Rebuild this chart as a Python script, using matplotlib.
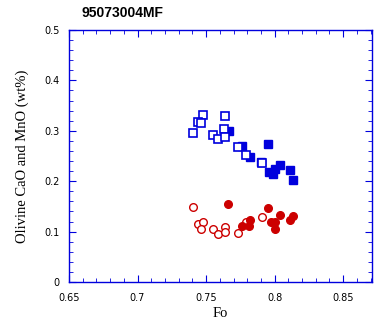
import matplotlib
matplotlib.use("Agg")
import matplotlib.pyplot as plt
from matplotlib.ticker import MultipleLocator

# CaO (blue squares), MnO (red circles); open = one group, filled = another
cao_open_x = [0.748, 0.744, 0.7466, 0.764, 0.7407, 0.7553, 0.759, 0.7634, 0.764, 0.7736, 0.7794, 0.791]
cao_open_y = [0.331, 0.317, 0.315, 0.329, 0.295, 0.291, 0.283, 0.303, 0.287, 0.267, 0.251, 0.236]
cao_fill_x = [0.7666, 0.7765, 0.7823, 0.7955, 0.7904, 0.8042, 0.8115, 0.7962, 0.8006, 0.7985, 0.8137]
cao_fill_y = [0.299, 0.269, 0.249, 0.273, 0.239, 0.232, 0.222, 0.218, 0.224, 0.214, 0.202]
mno_open_x = [0.7407, 0.7444, 0.748, 0.7466, 0.7553, 0.759, 0.7636, 0.764, 0.7736, 0.7906, 0.7794]
mno_open_y = [0.148, 0.116, 0.120, 0.105, 0.105, 0.095, 0.109, 0.099, 0.097, 0.128, 0.119]
mno_fill_x = [0.7663, 0.7763, 0.7823, 0.7816, 0.7955, 0.797, 0.8004, 0.8042, 0.8006, 0.8115, 0.8137]
mno_fill_y = [0.154, 0.112, 0.124, 0.112, 0.146, 0.120, 0.120, 0.132, 0.106, 0.124, 0.130]

title = "95073004MF"
xlabel = "Fo"
ylabel = "Olivine CaO and MnO (wt%)"

blue = "#0000DD"
red = "#CC0000"

fig = plt.figure(figsize=(3.89, 3.24), dpi=100)
ax = fig.add_axes([69/389, 42/324, 303/389, 252/324])

ms = 5.5
ax.plot(cao_fill_x, cao_fill_y, ls="none", marker="s", ms=ms, mfc=blue, mec=blue, mew=1.0)
ax.plot(cao_open_x, cao_open_y, ls="none", marker="s", ms=ms, mfc="white", mec=blue, mew=1.2)
ax.plot(mno_open_x, mno_open_y, ls="none", marker="o", ms=ms, mfc="white", mec=red, mew=1.0)
ax.plot(mno_fill_x, mno_fill_y, ls="none", marker="o", ms=ms, mfc=red, mec=red, mew=1.0)

ax.set_xlim(0.65, 0.871)
ax.set_ylim(0, 0.5)
ax.xaxis.set_minor_locator(MultipleLocator(0.01))
ax.yaxis.set_minor_locator(MultipleLocator(0.02))
ax.set_xticks([0.65, 0.7, 0.75, 0.8, 0.85])
ax.set_xticklabels(["0.65", "0.7", "0.75", "0.8", "0.85"])
ax.set_yticks([0, 0.1, 0.2, 0.3, 0.4, 0.5])
ax.set_yticklabels(["0", "0.1", "0.2", "0.3", "0.4", "0.5"])

for s in ax.spines.values():
    s.set_color(blue)
    s.set_linewidth(1.0)
ax.tick_params(which="both", direction="in", top=True, right=True, color=blue,
               labelsize=7, labelcolor="black")
ax.tick_params(axis="x", which="major", pad=8)
ax.tick_params(axis="y", which="major", pad=7)
ax.tick_params(which="major", length=5)
ax.tick_params(which="minor", length=3)

ax.set_xlabel(xlabel, family="Liberation Serif", fontsize=10.5, labelpad=3)
ax.set_ylabel(ylabel, family="Liberation Serif", fontsize=10.5, labelpad=11)
fig.text(82/389, 1 - 13/324, title, fontsize=10, fontweight="bold",
         family="Liberation Sans", ha="left", va="center")

fig.savefig("out.png", dpi=100)
